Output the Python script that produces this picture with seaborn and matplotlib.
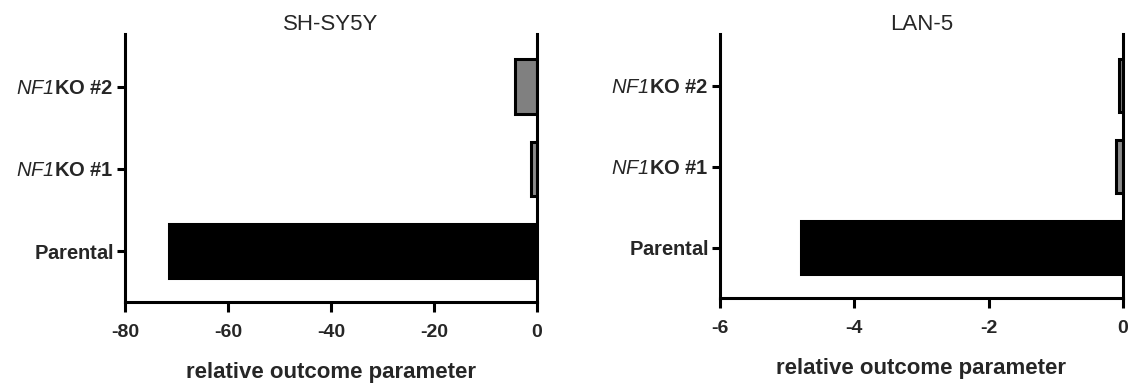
import matplotlib
matplotlib.use('Agg')
import matplotlib.pyplot as plt
import seaborn as sns
import pandas as pd

# Data
groups = ['NF1KO #2', 'NF1KO #1', 'Parental']
tick_labels = [r'$\mathit{NF1}\mathbf{KO\ \#2}$', r'$\mathit{NF1}\mathbf{KO\ \#1}$', r'$\mathbf{Parental}$']
shsy5y_values = [-4.3, -1.2, -71.5]
lan5_values = [-0.06, -0.11, -4.8]
panel_titles = ['SH-SY5Y', 'LAN-5']
bar_colors = ['#808080', '#8c8c8c', '#000000']

sns.set_theme(style='white')
plt.rcParams['font.family'] = ['Liberation Sans', 'DejaVu Sans']
# mathtext: italic NF1 (digits use rm, so rm is italic too), bold rest
plt.rcParams['mathtext.fontset'] = 'custom'
plt.rcParams['mathtext.rm'] = 'Liberation Sans:italic'
plt.rcParams['mathtext.it'] = 'Liberation Sans:italic'
plt.rcParams['mathtext.bf'] = 'Liberation Sans:bold'

fig = plt.figure(figsize=(11.29, 3.83), dpi=100)
ax1 = fig.add_axes([0.1107, 0.2115, 0.365, 0.700])
ax2 = fig.add_axes([0.6377, 0.222, 0.357, 0.690])

panels = [(ax1, shsy5y_values, (-80, 0), [-80, -60, -40, -20, 0]),
          (ax2, lan5_values, (-6, 0), [-6, -4, -2, 0])]

for (ax, vals, xlim, xticks), title in zip(panels, panel_titles):
    df = pd.DataFrame({'group': groups, 'value': vals})
    sns.barplot(data=df, x='value', y='group', hue='group', palette=bar_colors,
                orient='h', width=0.66, edgecolor='black', linewidth=2.2,
                legend=False, ax=ax)
    ax.set_xlim(*xlim)
    ax.set_ylim(2.62, -0.64)
    ax.set_xticks(xticks)
    ax.set_xticklabels([str(t) for t in xticks], fontsize=14, fontweight='bold')
    ax.set_yticks(range(len(groups)))
    ax.set_yticklabels(tick_labels, fontsize=14.5)
    ax.set_ylabel('')
    ax.set_xlabel('relative outcome parameter', fontsize=16, fontweight='bold', labelpad=15)
    ax.set_title(title, fontsize=16, pad=3)
    ax.spines['top'].set_visible(False)
    for s in ['left', 'bottom', 'right']:
        ax.spines[s].set_linewidth(2.2)
        ax.spines[s].set_color('black')
    ax.tick_params(axis='both', which='major', length=7, width=2.2, color='black',
                   left=True, bottom=True, direction='out')
    ax.tick_params(axis='y', length=6, pad=2)
    ax.tick_params(axis='x', pad=9)

fig.savefig('out.png', dpi=100)
